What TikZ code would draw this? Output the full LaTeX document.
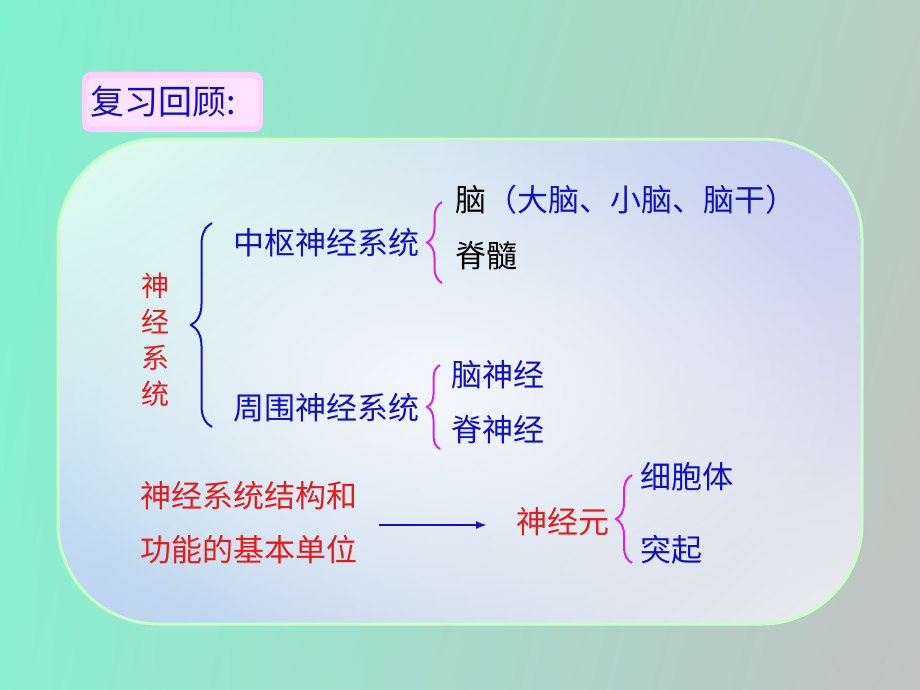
\documentclass[tikz,border=0pt]{standalone}
\usepackage{fontspec}
\setmainfont{Noto Sans CJK SC}
\usetikzlibrary{decorations.pathreplacing,arrows.meta,shadings,fadings}
\definecolor{tblue}{HTML}{1010C8}
\definecolor{tred}{HTML}{E61A1A}
\definecolor{tmag}{HTML}{E020E0}
\definecolor{bgUL}{HTML}{80F2D0}
\definecolor{bgUR}{HTML}{B8CEC2}
\definecolor{bgLL}{HTML}{8CF0D0}
\definecolor{bgLR}{HTML}{C2C2C2}
\definecolor{pUL}{HTML}{E0FFF0}
\definecolor{pUR}{HTML}{C4CAF0}
\definecolor{pLL}{HTML}{B8D2F0}
\definecolor{pLR}{HTML}{ECECEC}
\definecolor{pedge}{HTML}{C8FFC8}
\definecolor{tpink}{HTML}{FFD0FF}
\definecolor{tpinkin}{HTML}{FFE2FF}
\tikzfading[name=glowfade, inner color=transparent!0, outer color=transparent!100]
\tikzset{
  txt/.style={anchor=base west, inner sep=0pt, font=\fontsize{31}{36}\selectfont},
  vtxt/.style={anchor=base, inner sep=0pt, font=\fontsize{28}{36}\selectfont, text=tred},
  bracebig/.style={draw=tblue, line width=2pt, decorate, decoration={brace, amplitude=#1}},
  bracemag/.style={draw=tmag, line width=2pt, decorate, decoration={brace, amplitude=#1}},
}
\begin{document}
\begin{tikzpicture}[x=1pt,y=-1pt]
\useasboundingbox (0,0) rectangle (920,690);
% background
\shade[upper left=bgUL, upper right=bgUR, lower left=bgLL, lower right=bgLR] (0,0) rectangle (920,690);
% title box
\path[fill=tpink, rounded corners=9pt] (82,72) rectangle (263,132);
\path[fill=tpinkin, rounded corners=7pt] (86,78) rectangle (259,126);
\node[anchor=base west, inner sep=0pt, text=tblue, font=\fontsize{34}{40}\selectfont] (title) at (90.5,114.4) {复习回顾:};
% main panel
\shade[rounded corners=100pt, upper left=pUL, upper right=pUR, lower left=pLL, lower right=pLR] (58,139) rectangle (862,624);
\begin{scope}
  \clip[rounded corners=100pt] (58,139) rectangle (862,624);
  \fill[white, fill opacity=0.75, path fading=glowfade] (430,390) ellipse [x radius=420pt, y radius=260pt];
\end{scope}
\draw[pedge, line width=3pt, rounded corners=100pt] (58,139) rectangle (862,624);
% vertical label
\node[vtxt] (ns1) at (155,296.6) {神};
\node[vtxt] (ns2) at (155,332.6) {经};
\node[vtxt] (ns3) at (155,368.6) {系};
\node[vtxt] (ns4) at (155,404.6) {统};
% level 2
\node[txt, text=tblue] (cns) at (233.7,254.8) {中枢神经系统};
\node[txt, text=tblue] (pns) at (233.7,419.8) {周围神经系统};
% level 3
\node[txt] (brain) at (455.7,211.8) {脑{\color{tblue}（大脑、小脑、脑干）}};
\node[txt] (cord) at (455.7,267.8) {脊髓};
\node[txt, text=tblue] (cn) at (451.7,386.8) {脑神经};
\node[txt, text=tblue] (sn) at (451.7,441.8) {脊神经};
% bottom
\node[txt, text=tred] (unitA) at (140.7,507.8) {神经系统结构和};
\node[txt, text=tred] (unitB) at (140.7,561.8) {功能的基本单位};
\node[txt, text=tred] (neuron) at (516.7,533.8) {神经元};
\node[txt, text=tblue] (soma) at (640.7,488.8) {细胞体};
\node[txt, text=tblue] (proc) at (640.7,561.8) {突起};
% braces
\coordinate (b0s) at (212,427);
\coordinate (b0e) at (212,223);
\draw[bracebig=21pt] (b0s) -- (b0e);
\coordinate (b1s) at (442,283);
\coordinate (b1e) at (442,202);
\draw[bracemag=15pt] (b1s) -- (b1e);
\coordinate (b2s) at (440,449);
\coordinate (b2e) at (440,365);
\draw[bracemag=13pt] (b2s) -- (b2e);
\coordinate (b3s) at (632,563);
\coordinate (b3e) at (632,475);
\draw[bracemag=16pt] (b3s) -- (b3e);
% arrow
\coordinate (arrS) at (379,525);
\coordinate (arrE) at (487,525);
\draw[tblue, line width=2pt, -{Latex[length=11pt,width=8pt]}] (arrS) -- (arrE);
\end{tikzpicture}
\end{document}
